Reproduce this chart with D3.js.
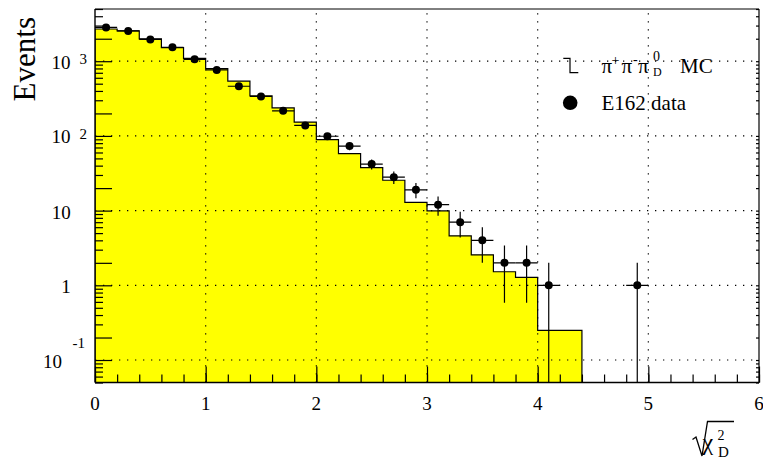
<!DOCTYPE html>
<html>
<head>
<meta charset="utf-8">
<script src="https://cdn.jsdelivr.net/npm/d3@7"></script>
<style>
  body { margin: 0; background: #fff; }
  svg { display: block; }
</style>
</head>
<body>
<svg id="chart" width="763" height="462" font-family="'Liberation Serif', 'Times New Roman', 'DejaVu Serif', serif"></svg>
<script>
// Histogram binning of sqrt(chi2_D): 30 bins of 0.2
const binEdges = [0, 0.2, 0.4, 0.6, 0.8, 1.0, 1.2, 1.4, 1.6, 1.8, 2.0, 2.2, 2.4, 2.6, 2.8, 3.0,
                  3.2, 3.4, 3.6, 3.8, 4.0, 4.2, 4.4, 4.6, 4.8, 5.0, 5.2, 5.4, 5.6, 5.8, 6.0];

// pi+ pi- pi0_D Monte Carlo (normalised)
const mcCounts = [2700, 2540, 1985, 1520, 1094, 796, 540, 344, 237, 153,
                  89, 58, 37.6, 25.5, 12.9, 9.9, 4.6, 2.56, 1.52, 1.28,
                  0.25, 0.25, 0, 0, 0, 0, 0, 0, 0, 0];

// E162 data counts per bin
const dataCounts = [2836, 2540, 1960, 1535, 1060, 765, 462, 337, 217, 138,
                    99, 73, 42, 28, 19, 12, 7, 4, 2, 2,
                    1, 0, 0, 0, 1, 0, 0, 0, 0, 0];

// Axis ticks and labels
const xMajorTicks = [0, 1, 2, 3, 4, 5, 6];
const yDecades = [0.1, 1, 10, 100, 1000];
const yDecadeLabels = [
  { base: "10", exp: "-1" },
  { base: "1",  exp: "" },
  { base: "10", exp: "" },
  { base: "10", exp: "2" },
  { base: "10", exp: "3" }
];
const xGridValues = [1, 2, 3, 4, 5];

const legendMC = "MC";
const legendData = "E162 data";
const yTitle = "Events";

const FONT = "'Liberation Serif', 'Times New Roman', 'DejaVu Serif', serif";

const svg = d3.select("#chart");

const frame = { left: 95, right: 759, top: 9, bottom: 382.5 };
const yMin = 0.05, yMax = 5000;

const x = d3.scaleLinear().domain([0, 6]).range([frame.left, frame.right]);
const y = d3.scaleLog().domain([yMin, yMax]).range([frame.bottom, frame.top]);

const clamp = v => Math.max(v, yMin);

function label(g, tx, ty, size, str, anchor) {
  return g.append("text")
    .attr("x", tx).attr("y", ty)
    .attr("font-family", FONT)
    .attr("font-size", size)
    .attr("fill", "#000")
    .attr("text-anchor", anchor || "start")
    .text(str);
}

svg.append("defs").append("clipPath").attr("id", "plotClip")
  .append("rect")
  .attr("x", frame.left).attr("y", frame.top)
  .attr("width", frame.right - frame.left).attr("height", frame.bottom - frame.top);

const plot = svg.append("g").attr("clip-path", "url(#plotClip)");

// Histogram step points
const histPts = [[0, yMin]];
mcCounts.forEach((v, i) => {
  histPts.push([binEdges[i], clamp(v)]);
  histPts.push([binEdges[i + 1], clamp(v)]);
});
histPts.push([binEdges[binEdges.length - 1], yMin]);

plot.append("path")
  .datum(histPts)
  .attr("fill", "#ffff00")
  .attr("stroke", "none")
  .attr("d", d3.area().x(d => x(d[0])).y0(y(yMin)).y1(d => y(d[1])));

plot.append("path")
  .datum(histPts)
  .attr("fill", "none")
  .attr("stroke", "#000")
  .attr("stroke-width", 1.2)
  .attr("d", d3.line().x(d => x(d[0])).y(d => y(d[1])));

// Dotted grid
const grid = svg.append("g")
  .attr("stroke", "#000")
  .attr("stroke-width", 1.2)
  .attr("stroke-dasharray", "1.3,6.7");
grid.selectAll("line.gx").data(xGridValues).join("line")
  .attr("class", "gx")
  .attr("x1", d => x(d)).attr("x2", d => x(d))
  .attr("y1", frame.bottom).attr("y2", frame.top);
grid.selectAll("line.gy").data(yDecades).join("line")
  .attr("class", "gy")
  .attr("x1", frame.left).attr("x2", frame.right)
  .attr("y1", d => y(d)).attr("y2", d => y(d));

// Data points with Poisson error bars
const dataPts = dataCounts.map((n, i) => ({
  lo: binEdges[i], hi: binEdges[i + 1], c: (binEdges[i] + binEdges[i + 1]) / 2, n
})).filter(d => d.n > 0);

const pts = plot.append("g");
pts.selectAll("line.ex").data(dataPts).join("line")
  .attr("class", "ex")
  .attr("x1", d => x(d.lo)).attr("x2", d => x(d.hi))
  .attr("y1", d => y(d.n)).attr("y2", d => y(d.n))
  .attr("stroke", "#000").attr("stroke-width", 1.2);
pts.selectAll("line.ey").data(dataPts).join("line")
  .attr("class", "ey")
  .attr("x1", d => x(d.c)).attr("x2", d => x(d.c))
  .attr("y1", d => y(clamp(d.n - Math.sqrt(d.n))))
  .attr("y2", d => y(d.n + Math.sqrt(d.n)))
  .attr("stroke", "#000").attr("stroke-width", 1.2);
pts.selectAll("circle").data(dataPts).join("circle")
  .attr("cx", d => x(d.c)).attr("cy", d => y(d.n))
  .attr("r", 4).attr("fill", "#000");

// Frame
svg.append("line")
  .attr("x1", frame.left).attr("x2", frame.right)
  .attr("y1", frame.top).attr("y2", frame.top)
  .attr("stroke", "#000").attr("stroke-width", 1);
svg.append("line")
  .attr("x1", frame.right).attr("x2", frame.right)
  .attr("y1", frame.top).attr("y2", frame.bottom)
  .attr("stroke", "#000").attr("stroke-width", 1.2);

// X axis: major and minor ticks pointing inward
const xMinor = svg.append("g")
  .attr("transform", `translate(0,${frame.bottom})`)
  .call(d3.axisBottom(x).tickValues(binEdges).tickSize(-8).tickFormat(""));
const xMajor = svg.append("g")
  .attr("transform", `translate(0,${frame.bottom})`)
  .call(d3.axisBottom(x).tickValues(xMajorTicks).tickSize(-16).tickFormat(""));
[xMinor, xMajor].forEach(g => {
  g.select(".domain").remove();
  g.selectAll(".tick line").attr("stroke", "#000").attr("stroke-width", 1.2);
});
const xLab = svg.append("g");
xMajorTicks.forEach(v => label(xLab, x(v), 409.5, 19, d3.format("d")(v), "middle"));

svg.append("line")
  .attr("x1", frame.left).attr("x2", frame.right)
  .attr("y1", frame.bottom).attr("y2", frame.bottom)
  .attr("stroke", "#000").attr("stroke-width", 1.4);

// Y axis: log ticks, long at 1x and 2x each decade
const yTicks = y.ticks();
const mant = v => Math.round(v / Math.pow(10, Math.floor(Math.log10(v) + 1e-9)));
const isLong = v => mant(v) === 1 || mant(v) === 2;
const yLong = yTicks.filter(isLong);
const yShort = yTicks.filter(v => !isLong(v));

const yShortAx = svg.append("g").attr("transform", `translate(${frame.left},0)`)
  .call(d3.axisLeft(y).tickValues(yShort).tickSize(-8).tickFormat(""));
const yLongAx = svg.append("g").attr("transform", `translate(${frame.left},0)`)
  .call(d3.axisLeft(y).tickValues(yLong).tickSize(-17).tickFormat(""));
const yRightAx = svg.append("g").attr("transform", `translate(${frame.right},0)`)
  .call(d3.axisRight(y).tickValues(yTicks).tickSize(-3).tickFormat(""));
[yShortAx, yLongAx, yRightAx].forEach(g => {
  g.select(".domain").remove();
  g.selectAll(".tick line").attr("stroke", "#000").attr("stroke-width", 1.2);
});
svg.append("line")
  .attr("x1", frame.left).attr("x2", frame.left)
  .attr("y1", frame.top).attr("y2", frame.bottom)
  .attr("stroke", "#000").attr("stroke-width", 1.4);

// Decade labels as 10^n
const yLab = svg.append("g");
yDecades.forEach((v, i) => {
  const lab = yDecadeLabels[i];
  const ty = y(v);
  if (!lab.exp) {
    label(yLab, 70.7, ty + 8, 19, lab.base, "end");
  } else {
    const neg = lab.exp.startsWith("-");
    label(yLab, neg ? 62 : 70.5, ty + 7.5, 19, lab.base, "end");
    label(yLab, neg ? 72.5 : 79.5, neg ? ty - 12.5 : ty + 3, 15, lab.exp, "start");
  }
});

// Axis titles
label(svg, 0, 0, 31, yTitle, "end")
  .attr("transform", "translate(35,17) rotate(-90)");

const xt = svg.append("g");
xt.append("path")
  .attr("d", "M692.5,439.5 L696,437 L702,456 L707.5,421.5 L734,421.5")
  .attr("fill", "none").attr("stroke", "#000").attr("stroke-width", 1.3)
  .attr("stroke-linejoin", "miter");
label(xt, 702.5, 449.5, 24, "\u03C7");
label(xt, 717.5, 440, 14, "2");
label(xt, 718, 456.5, 15, "D");

// Legend
const leg = svg.append("g");
leg.append("path")
  .attr("d", "M563.3,58.3 H570 V72.7 H578.3")
  .attr("fill", "none").attr("stroke", "#000").attr("stroke-width", 1.2);
const piRow = [
  { t: "\u03C0", x: 601.5, y: 73.3, s: 21 },
  { t: "+", x: 611.5, y: 64.5, s: 14 },
  { t: "\u03C0", x: 621.5, y: 73.3, s: 21 },
  { t: "-", x: 633, y: 64, s: 14 },
  { t: "\u03C0", x: 638, y: 73.3, s: 21 },
  { t: "0", x: 653, y: 60.5, s: 14 },
  { t: "D", x: 653, y: 75.5, s: 12 },
  { t: legendMC, x: 680, y: 73.3, s: 21 }
];
piRow.forEach(p => label(leg, p.x, p.y, p.s, p.t));
leg.append("circle").attr("cx", 570.2).attr("cy", 102.8).attr("r", 7.3).attr("fill", "#000");
label(leg, 601.5, 110, 21, legendData);
</script>
</body>
</html>
